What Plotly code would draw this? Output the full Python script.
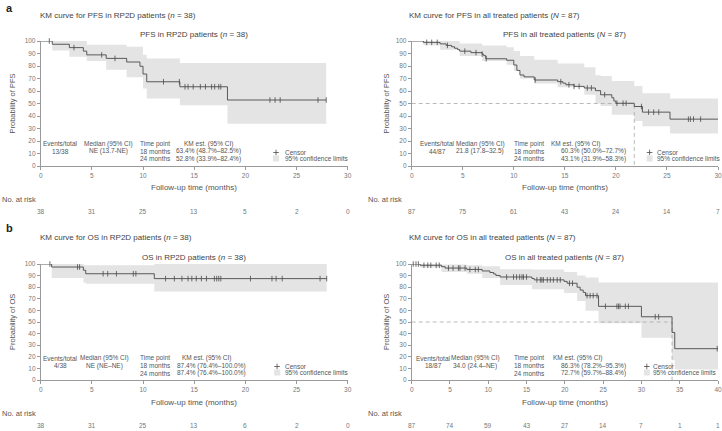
import plotly.graph_objects as go

W, H = 722, 431
FONT = "Liberation Sans"
CURVE = "#4a4a4a"
BAND = "#e4e4e4"
AXC = "#9a9a9a"
TXT = "#555555"

# ---------------- data ----------------
# Panel a-left: PFS in RP2D patients (n = 38)
pfs_rp2d_t = [0, 1.13, 2.8, 4.17, 4.5, 6.4, 8.4, 9.7, 10.0, 10.36, 13.6, 18.25, 27.9]
pfs_rp2d_s = [100, 97.4, 94.7, 91.9, 88.9, 86.1, 83.2, 79.8, 73.6, 67.4, 63.4, 52.8, 52.8]
pfs_rp2d_cens = [0.84, 3.25, 5.96, 7.26, 12.0, 13.55, 14.1, 14.4, 14.9, 15.6, 16.1, 16.7,
                 17.0, 17.4, 17.6, 22.4, 22.9, 23.4, 27.1, 27.9]
pfs_rp2d_bt = [0, 1.13, 2.8, 4.5, 6.4, 8.4, 10.0, 10.36, 13.6, 18.25, 27.9]
pfs_rp2d_lo = [100, 92.5, 87.5, 84, 77, 71, 62, 54, 48.7, 33.9, 33.9]
pfs_rp2d_hi = [100, 100, 100, 97, 97, 95.5, 89, 86, 82.5, 82.4, 82.4]
pfs_rp2d_risk = [38, 31, 25, 13, 5, 2, 0]

# Panel a-right: PFS in all treated patients (N = 87)
pfs_all_t = [0, 1.14, 2.78, 3.37, 3.9, 4.2, 4.5, 4.7, 5.8, 6.9, 7.05, 7.25, 9.3, 10.0,
             10.3, 10.6, 11.0, 12.0, 14.3, 14.8, 15.1, 15.9, 16.9, 18.0, 18.5, 19.6,
             19.8, 20.0, 21.8, 22.6, 25.3, 30]
pfs_all_s = [100, 98.9, 97.7, 96.5, 95.4, 94.2, 93.1, 91.9, 90.7, 89.5, 88.3, 85.8, 84.6,
             80.8, 76.5, 72.8, 71.3, 68.8, 67.5, 66.3, 65.0, 63.7, 62.4, 60.3, 57.0, 54.6,
             52.0, 50.2, 47.6, 43.1, 37.5, 37.5]
pfs_all_cens = [1.47, 1.96, 2.5, 3.5, 5.2, 6.3, 6.9, 7.3, 12.1, 14.6, 15.4, 15.9, 16.4,
                17.2, 17.6, 18.9, 20.1, 20.7, 21.0, 22.5, 23.2, 23.7, 24.2, 27.1, 27.3,
                27.6, 28.3]
pfs_all_bt = [0, 1.14, 2.78, 4.7, 6.9, 9.3, 10.0, 10.6, 12.0, 14.3, 16.9, 18.0, 18.5,
              19.6, 21.8, 22.6, 25.3, 30]
pfs_all_lo = [100, 96.7, 93, 88, 84, 81, 76, 70, 66, 63, 57, 50.0, 48, 41, 36, 31.9, 26, 26]
pfs_all_hi = [100, 100, 100, 98, 96.5, 95, 92, 88, 85, 82, 79, 72.7, 72, 68, 64, 58.3, 54, 54]
pfs_all_risk = [87, 75, 61, 43, 24, 14, 7]
pfs_all_median = 21.8

# Panel b-left: OS in RP2D patients (n = 38)
os_rp2d_t = [0, 1.07, 4.17, 4.4, 11.1, 27.95]
os_rp2d_s = [100, 97.4, 94.6, 91.6, 87.4, 87.4]
os_rp2d_cens = [0.9, 3.6, 3.8, 6.1, 6.55, 7.4, 9.05, 9.3, 12.2, 13.06, 13.8, 14.4, 14.77,
                15.2, 15.7, 16.2, 16.97, 17.2, 17.4, 17.6, 20.5, 22.6, 23.0, 23.6, 27.3, 27.95]
os_rp2d_bt = [0, 1.07, 4.17, 4.4, 11.1, 27.95]
os_rp2d_lo = [100, 88, 84, 83, 76.4, 76.4]
os_rp2d_hi = [100, 100, 99, 99, 100, 100]
os_rp2d_risk = [38, 31, 25, 13, 6, 2, 0]

# Panel b-right: OS in all treated patients (N = 87)
os_all_t = [0, 1.09, 3.9, 4.36, 7.2, 9.2, 10.2, 10.7, 11.0, 11.55, 15.7, 16.0, 19.9, 20.3,
            21.6, 22.0, 22.4, 22.7, 24.4, 30.0, 34.0, 34.35, 40]
os_all_s = [100, 98.9, 97.7, 96.5, 95.3, 94.0, 92.7, 91.4, 90.1, 88.8, 87.5, 86.3, 85.0,
            83.4, 80.0, 77.5, 75.5, 72.7, 63.5, 54.5, 41.0, 27.0, 27.0]
os_all_cens = [0.2, 0.56, 0.87, 1.6, 2.1, 2.5, 3.2, 3.6, 4.8, 5.4, 6.1, 6.3, 6.97, 7.6, 8.3,
               8.7, 12.4, 13.3, 13.7, 14.1, 14.4, 14.6, 15.0, 16.35, 16.8, 17.0, 17.2, 17.7,
               18.1, 18.5, 19.0, 19.4, 20.6, 21.0, 22.9, 23.3, 23.7, 24.2, 25.3, 26.8, 27.0,
               27.2, 27.9, 28.3, 31.8, 32.25, 39.9]
os_all_bt = [0, 1.09, 3.9, 7.2, 9.2, 11.55, 15.7, 19.9, 21.6, 22.7, 24.4, 30.0, 34.0, 34.35, 40]
os_all_lo = [100, 97, 93, 91.5, 88, 82, 78.2, 75, 68, 59.7, 49, 36.5, 17, 9, 9]
os_all_hi = [100, 100, 99.5, 99, 98, 95.5, 95.3, 93, 90, 88.4, 84, 84, 84, 84, 84]
os_all_risk = [87, 74, 59, 43, 27, 14, 7, 1, 1]
os_all_median = 34.0

y_ticks = [0, 10, 20, 30, 40, 50, 60, 70, 80, 90, 100]
panel_letters = ["a", "b"]

# ---------------- layout helpers ----------------
def px(x):
    return x / W

def py(y):
    return 1 - y / H

def step_at(ts, ss, t):
    v = ss[0]
    for ti, si in zip(ts, ss):
        if ti <= t:
            v = si
    return v

panels = [
    dict(key="1", x0=40.7, x1=347.7, ytop=41, ybot=166, xmax=30,
         t=pfs_rp2d_t, s=pfs_rp2d_s, c=pfs_rp2d_cens, bt=pfs_rp2d_bt, lo=pfs_rp2d_lo,
         hi=pfs_rp2d_hi, risk=pfs_rp2d_risk, median=None,
         title="KM curve for PFS in RP2D patients (<i>n</i> = 38)", tx=37.7, ty=15,
         inner="PFS in RP2D patients (<i>n</i> = 38)", iy=34,
         ytitle="Probability of PFS", ytx=12, nrx=0,
         cols=[(1.9, "center", ["Events/total", "13/38"]),
               (6.6, "center", ["Median (95% CI)", "NE (13.7-NE)"]),
               (9.5, "left", ["Time point", "18 months", "24 months"]),
               (16.4, "center", ["KM est. (95% CI)"]),
               (13.0, "left", ["", "63.4% (48.7%–82.5%)", "52.8% (33.9%–82.4%)"])],
         leg=(23.0, 23.7)),
    dict(key="2", x0=411.7, x1=718, ytop=41, ybot=166, xmax=30,
         t=pfs_all_t, s=pfs_all_s, c=pfs_all_cens, bt=pfs_all_bt, lo=pfs_all_lo,
         hi=pfs_all_hi, risk=pfs_all_risk, median=pfs_all_median,
         title="KM curve for PFS in all treated patients (<i>N</i> = 87)", tx=406.7, ty=15,
         inner="PFS in all treated patients (<i>N</i> = 87)", iy=34,
         ytitle="Probability of PFS", ytx=386, nrx=366,
         cols=[(2.55, "center", ["Events/total", "44/87"]),
               (6.7, "center", ["Median (95% CI)", "21.8 (17.8–32.5)"]),
               (9.8, "left", ["Time point", "18 months", "24 months"]),
               (16.0, "center", ["KM est. (95% CI)"]),
               (14.4, "left", ["", "60.3% (50.0%–72.7%)", "43.1% (31.9%–58.3%)"])],
         leg=(23.3, 23.8)),
    dict(key="3", x0=40.7, x1=347.7, ytop=264, ybot=380, xmax=30,
         t=os_rp2d_t, s=os_rp2d_s, c=os_rp2d_cens, bt=os_rp2d_bt, lo=os_rp2d_lo,
         hi=os_rp2d_hi, risk=os_rp2d_risk, median=None,
         title="KM curve for OS in RP2D patients (<i>n</i> = 38)", tx=37.7, ty=238,
         inner="OS in RP2D patients (<i>n</i> = 38)", iy=257,
         ytitle="Probability of OS", ytx=12, nrx=0,
         cols=[(1.9, "center", ["Events/total", "4/38"]),
               (6.2, "center", ["Median (95% CI)", "NE (NE–NE)"]),
               (9.5, "left", ["Time point", "18 months", "24 months"]),
               (16.2, "center", ["KM est. (95% CI)"]),
               (13.1, "left", ["", "87.4% (76.4%–100.0%)", "87.4% (76.4%–100.0%)"])],
         leg=(23.1, 23.65)),
    dict(key="4", x0=411.7, x1=718, ytop=264, ybot=380, xmax=40,
         t=os_all_t, s=os_all_s, c=os_all_cens, bt=os_all_bt, lo=os_all_lo,
         hi=os_all_hi, risk=os_all_risk, median=os_all_median,
         title="KM curve for OS in all treated patients (<i>N</i> = 87)", tx=406.7, ty=238,
         inner="OS in all treated patients (<i>N</i> = 87)", iy=257,
         ytitle="Probability of OS", ytx=386, nrx=366,
         cols=[(2.8, "center", ["Events/total", "18/87"]),
               (8.3, "center", ["Median (95% CI)", "34.0 (24.4–NE)"]),
               (13.1, "left", ["Time point", "18 months", "24 months"]),
               (21.6, "center", ["KM est. (95% CI)"]),
               (19.3, "left", ["", "86.3% (78.2%–95.3%)", "72.7% (59.7%–88.4%)"])],
         leg=(30.7, 31.3)),
]

# pixel offsets above the x axis for the three table rows and two legend rows
ROW_OFF = [22, 14.5, 7]
LEG_OFF = [13.5, 7.5]

fig = go.Figure()
annotations = []
layout_axes = {}

for p in panels:
    k = p["key"]
    xa = "x" if k == "1" else "x" + k
    ya = "y" if k == "1" else "y" + k
    xname = "xaxis" if k == "1" else "xaxis" + k
    yname = "yaxis" if k == "1" else "yaxis" + k
    pxper = (p["ybot"] - p["ytop"]) / 100.0

    # confidence band
    fig.add_trace(go.Scatter(x=p["bt"], y=p["lo"], mode="lines", line=dict(width=0, shape="hv"),
                             xaxis=xa, yaxis=ya, hoverinfo="skip", showlegend=False))
    fig.add_trace(go.Scatter(x=p["bt"], y=p["hi"], mode="lines", line=dict(width=0, shape="hv"),
                             fill="tonexty", fillcolor=BAND, xaxis=xa, yaxis=ya,
                             hoverinfo="skip", showlegend=False))
    # median lines
    if p["median"] is not None:
        m = p["median"]
        fig.add_trace(go.Scatter(x=[0, m, m], y=[50, 50, 0], mode="lines",
                                 line=dict(color="#a8a8a8", width=0.8, dash="4px,3px"),
                                 xaxis=xa, yaxis=ya, hoverinfo="skip", showlegend=False))
    # KM curve
    fig.add_trace(go.Scatter(x=p["t"], y=p["s"], mode="lines",
                             line=dict(color=CURVE, width=0.9, shape="hv"),
                             xaxis=xa, yaxis=ya, showlegend=False, cliponaxis=False))
    # censor marks
    cy = [step_at(p["t"], p["s"], t) for t in p["c"]]
    fig.add_trace(go.Scatter(x=p["c"], y=cy, mode="markers",
                             marker=dict(symbol="line-ns", size=4,
                                         line=dict(color=CURVE, width=0.8)),
                             xaxis=xa, yaxis=ya, showlegend=False, cliponaxis=False))
    # in-plot legend
    lx, ltx = p["leg"]
    ly1 = LEG_OFF[0] / pxper
    ly2 = LEG_OFF[1] / pxper
    fig.add_trace(go.Scatter(x=[lx], y=[ly1], mode="markers",
                             marker=dict(symbol="cross-thin", size=4,
                                         line=dict(color=CURVE, width=0.8)),
                             xaxis=xa, yaxis=ya, showlegend=False, cliponaxis=False))
    fig.add_trace(go.Scatter(x=[lx], y=[ly2], mode="markers",
                             marker=dict(symbol="square", size=6, color=BAND),
                             xaxis=xa, yaxis=ya, showlegend=False, cliponaxis=False))
    annotations.append(dict(x=ltx, y=ly1, xref=xa, yref=ya, text="Censor", showarrow=False,
                            xanchor="left", yanchor="middle", font=dict(size=6.5, color=TXT)))
    annotations.append(dict(x=ltx, y=ly2, xref=xa, yref=ya, text="95% confidence limits",
                            showarrow=False, xanchor="left", yanchor="middle",
                            font=dict(size=6.5, color=TXT)))

    # statistics table
    for cx, anc, lines in p["cols"]:
        for i, line in enumerate(lines):
            if not line:
                continue
            annotations.append(dict(x=cx, y=ROW_OFF[i] / pxper, xref=xa, yref=ya, text=line,
                                    showarrow=False, xanchor=anc, yanchor="middle",
                                    font=dict(size=6.5, color=TXT)))

    # axes
    layout_axes[xname] = dict(domain=[px(p["x0"]), px(p["x1"])], range=[0, p["xmax"]],
                              anchor=ya, dtick=5, tick0=0, showline=True, linecolor=AXC,
                              linewidth=0.8, ticks="outside", ticklen=3, tickwidth=0.8,
                              tickcolor=AXC, tickfont=dict(size=6.5, color="#777"),
                              showgrid=False, zeroline=False)
    layout_axes[yname] = dict(domain=[py(p["ybot"]), py(p["ytop"])], range=[0, 100],
                              anchor=xa, tickvals=y_ticks, showline=True, linecolor=AXC,
                              linewidth=0.8, ticks="outside", ticklen=3, tickwidth=0.8,
                              tickcolor=AXC, tickfont=dict(size=6.5, color="#777"),
                              showgrid=False, zeroline=False)

    xc = (p["x0"] + p["x1"]) / 2
    yc = (p["ytop"] + p["ybot"]) / 2
    yb = p["ybot"]
    annotations += [
        dict(x=px(p["tx"]), y=py(p["ty"]), xref="paper", yref="paper", text=p["title"],
             showarrow=False, xanchor="left", yanchor="middle", font=dict(size=8, color="#444")),
        dict(x=px(xc), y=py(p["iy"]), xref="paper", yref="paper", text=p["inner"],
             showarrow=False, xanchor="center", yanchor="middle", font=dict(size=8, color="#444")),
        dict(x=px(p["ytx"]), y=py(yc), xref="paper", yref="paper", text=p["ytitle"],
             textangle=-90, showarrow=False, xanchor="center", yanchor="middle",
             font=dict(size=7.5, color=TXT)),
        dict(x=px(xc), y=py(yb + 22), xref="paper", yref="paper",
             text="Follow-up time (months)", showarrow=False, xanchor="center",
             yanchor="middle", font=dict(size=8, color=TXT)),
        dict(x=px(p["nrx"]), y=py(yb + 33), xref="paper", yref="paper", text="No. at risk",
             showarrow=False, xanchor="left", yanchor="middle", font=dict(size=7.5, color=TXT)),
    ]
    for i, n in enumerate(p["risk"]):
        annotations.append(dict(x=i * 5, y=py(yb + 45), xref=xa, yref="paper", text=str(n),
                                showarrow=False, xanchor="center", yanchor="middle",
                                font=dict(size=6.5, color="#777")))

# panel letters
for letter, ypix in zip(panel_letters, [8, 228]):
    annotations.append(dict(x=px(4), y=py(ypix), xref="paper", yref="paper", text=letter,
                            showarrow=False, xanchor="left", yanchor="middle",
                            font=dict(size=11, color="#222", family="Liberation Sans",
                                      weight="bold")))

fig.update_layout(width=W, height=H, margin=dict(l=0, r=0, t=0, b=0, autoexpand=False),
                  paper_bgcolor="white", plot_bgcolor="white",
                  font=dict(family=FONT, color=TXT), showlegend=False,
                  annotations=annotations, **layout_axes)

fig.write_html("out.html", config={"displayModeBar": False},
               post_script="document.body.style.margin='0';document.body.style.overflow='hidden';")
